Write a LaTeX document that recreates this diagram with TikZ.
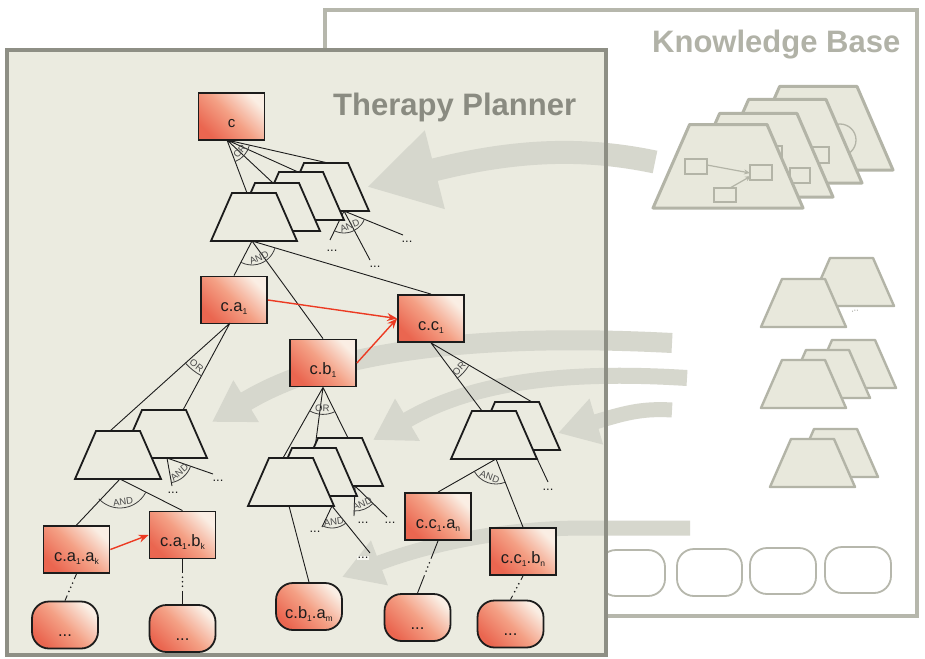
\documentclass[tikz,border=0pt]{standalone}
\usepackage{fontspec}
\setmainfont{Liberation Sans}
\usetikzlibrary{arrows.meta,calc}

\definecolor{tpbg}{HTML}{EBEBE0}
\definecolor{tpborder}{HTML}{8E8F85}
\definecolor{kbborder}{HTML}{B6B7AC}
\definecolor{kbfill}{HTML}{E8E8DC}
\definecolor{kbline}{HTML}{B3B4A7}
\definecolor{flowc}{HTML}{D6D7CD}
\definecolor{tptitle}{HTML}{8A8B81}
\definecolor{kbtitle}{HTML}{B1B2A7}
\definecolor{kbdotc}{HTML}{8C8D83}
\definecolor{rtop}{HTML}{FAEEE4}
\definecolor{rmid}{HTML}{F4A085}
\definecolor{rbot}{HTML}{EA6650}
\definecolor{redarr}{HTML}{EC3A22}
\definecolor{ink}{HTML}{1C1C1C}

\newcommand\lowtxt[1]{\raisebox{-11.5pt}[0pt][0pt]{#1}}
\newcommand\sbx[1]{\raisebox{-3pt}{\fontsize{8.5}{8.5}\selectfont #1}}
\newcommand\gate[5]{%
  \draw[gatearc] ($(#1)+(#2:#4)$) arc[start angle=#2, end angle=#3, radius=#4];
  \node[gatelbl, rotate={90-(#2+#3)/2}] at ($(#1)+({(#2+#3)/2}:{#4-6})$) {#5};
}
\newcommand\vlink[2]{%
  \draw[conn] (#1) -- ($(#1)!0.5!(#2)!9pt!(#1)$);
  \draw[conn] ($(#1)!0.5!(#2)!9pt!(#2)$) -- (#2);
  \fill[ink] ($(#1)!0.5!(#2)!-4.5pt!(#2)$) circle[radius=0.9];
  \fill[ink] ($(#1)!0.5!(#2)$) circle[radius=0.9];
  \fill[ink] ($(#1)!0.5!(#2)!4.5pt!(#2)$) circle[radius=0.9];
}

\tikzset{
  redbox/.style={draw=ink, line width=1.8pt, top color=rtop, bottom color=rbot,
    middle color=rmid, shading angle=-45, minimum width=66pt, minimum height=47pt,
    inner sep=0pt, font=\fontsize{16.5}{16.5}\selectfont, text=ink},
  redround/.style={redbox, rounded corners=17pt},
  trapline/.style={draw=ink, line width=1.8pt, fill=tpbg, line join=miter},
  kbtrapline/.style={draw=kbline, line width=2.4pt, fill=kbfill, line join=round},
  kbmini/.style={draw=kbline, line width=1.3pt},
  kbround/.style={draw=kbborder, line width=1.8pt, fill=white, rounded corners=17pt},
  conn/.style={draw=ink, line width=0.9pt},
  gatearc/.style={draw=ink!85, line width=0.8pt},
  gatelbl/.style={font=\fontsize{9.5}{9.5}\selectfont, text=ink!80, inner sep=0pt},
  dotlbl/.style={font=\fontsize{13}{13}\selectfont, text=ink, inner sep=0pt},
  flowarrow/.style={draw=flowc, line cap=butt},
  redarrow/.style={draw=redarr, line width=1.4pt, -{Stealth[length=10pt,width=8pt]}},
  kbarrow/.style={draw=kbline, line width=1.2pt, -{Stealth[length=6pt,width=5pt]}},
  pics/trap/.style={code={\path[trapline] (0,0) -- (86,0) -- (65,-48) -- (21,-48) -- cycle;}},
  pics/kbbig/.style={code={\path[kbtrapline, line width=3pt] (0,0) -- (150,0) -- (114,-83.5) -- (36.6,-83.5) -- cycle;}},
  pics/kbsmall/.style={code={\path[kbtrapline] (0,0) -- (85,0) -- (64,-48) -- (21,-48) -- cycle;}},
}

\begin{document}
\begin{tikzpicture}[x=1pt,y=-1pt]
\useasboundingbox (0,0) rectangle (925,658);

% ---------------- Knowledge Base ----------------
\draw[kbborder, line width=3.5pt, fill=white] (325,10) rectangle (917,616);
\node[font=\bfseries\fontsize{31}{31}\selectfont, text=kbtitle, anchor=base west, inner sep=0pt] (kbt) at (652,53) {Knowledge Base};

% big stack
\pic at (743,170) {kbbig};
\draw[kbmini] (840,140) circle[radius=16];
\pic at (712,183) {kbbig};
\draw[kbmini] (805,147) rectangle (829,163);
\pic at (683,197) {kbbig};
\draw[kbmini] (760,146) rectangle (782,161);
\draw[kbmini] (790,168) rectangle (810,183);
\pic at (653,208) {kbbig};
\draw[kbmini] (685,159) rectangle (707,174);
\draw[kbmini] (750,165) rectangle (772,180);
\draw[kbmini] (714,188) rectangle (736,202);
\draw[kbarrow] (707,165) -- (750,173);
\draw[kbarrow] (730,188) -- (751,176);

% small stacks
\pic at (809,306) {kbsmall};
\pic at (761,327) {kbsmall};
\node[font=\fontsize{9}{9}\selectfont, text=kbdotc, rotate=15, inner sep=0pt] (kbdots) at (855,311) {...};
\pic at (811,388) {kbsmall};
\pic at (785,398) {kbsmall};
\pic at (761,408) {kbsmall};
\pic at (793,477) {kbsmall};
\pic at (770,487) {kbsmall};

% rounded items
\path[kbround] (599,550) rectangle (665,596);
\path[kbround] (677,549) rectangle (742,596);
\path[kbround] (750,548) rectangle (816,594);
\path[kbround] (825,547) rectangle (891,593);

% ---------------- Therapy Planner ----------------
\fill[tpbg] (7,50) rectangle (606,655);

% flow arrows
\draw[flowarrow, line width=23pt, -{Triangle[length=70pt,width=76pt]}] (655,162) .. controls (588,148) and (520,148) .. (367,187);
\draw[flowarrow, line width=20pt, -{Triangle[length=40pt,width=46pt]}] (672,343) .. controls (480,333) and (330,350) .. (212,422);
\draw[flowarrow, line width=16pt, -{Triangle[length=40pt,width=46pt]}] (687,378) .. controls (560,370) and (470,383) .. (373,440);
\draw[flowarrow, line width=15pt, -{Triangle[length=40pt,width=45pt]}] (672,410) .. controls (640,408) and (622,414) .. (558,433);
\draw[flowarrow, line width=15pt, -{Triangle[length=40pt,width=45pt]}] (690,528) -- (585,528) .. controls (515,528) and (440,540) .. (342,577);

\draw[tpborder, line width=4.5pt] (7,50) rectangle (606,655);
\node[font=\bfseries\fontsize{31}{31}\selectfont, text=tptitle, anchor=base west, inner sep=0pt] (tpt) at (333,116) {Therapy Planner};

% ---------------- tree nodes ----------------
\node[redbox, font=\fontsize{15}{15}\selectfont] (c) at (231.5,116.5) {\lowtxt{c}};
\node[redbox] (ca1) at (234,300) {\lowtxt{c.a\sbx{1}}};
\node[redbox] (cb1) at (323,363) {\lowtxt{c.b\sbx{1}}};
\node[redbox] (cc1) at (431,318.5) {\lowtxt{c.c\sbx{1}}};
\node[redbox] (caa) at (76.5,549.5) {\lowtxt{c.a\sbx{1}.a\sbx{k}}};
\node[redbox] (cab) at (182.5,535) {\lowtxt{c.a\sbx{1}.b\sbx{k}}};
\node[redbox] (cca) at (438,516.5) {\lowtxt{c.c\sbx{1}.a\sbx{n}}};
\node[redbox] (ccb) at (523,551.5) {\lowtxt{c.c\sbx{1}.b\sbx{n}}};
\node[redround] (ra) at (65,625) {\lowtxt{...}};
\node[redround] (rb) at (182.5,628.5) {\lowtxt{...}};
\node[redround] (rc) at (309,606.5) {\lowtxt{c.b\sbx{1}.a\sbx{m}}};
\node[redround] (rd) at (417.5,617.5) {\lowtxt{...}};
\node[redround] (re) at (510.5,624) {\lowtxt{...}};

% ---------------- c : OR ----------------
\coordinate (cA) at (227,140);
\coordinate (t1) at (247,193);
\coordinate (t2) at (273,183);
\coordinate (t3) at (298,172);
\coordinate (t4) at (328,163);
\draw[conn] (cA) -- (t1) (cA) -- (t2) (cA) -- (t3) (cA) -- (t4);
\gate{cA}{13}{69}{23}{OR}

% c stack
\pic at (283,211) {trap};
\coordinate (g4) at (344,211);
\coordinate (d41) at (330,240);
\coordinate (d42) at (370,260);
\coordinate (d43) at (403,235);
\draw[conn] (g4) -- (d41) (g4) -- (d42) (g4) -- (d43);
\gate{g4}{22}{116}{22}{AND}
\node[dotlbl] (e41) at (332,251) {...};
\node[dotlbl] (e42) at (375,267) {...};
\node[dotlbl] (e43) at (407,242) {...};
\pic at (258,220) {trap};
\pic at (234,231) {trap};
\pic at (211,241) {trap};
\coordinate (g1) at (252,241);
\draw[conn] (g1) -- (ca1.north) (g1) -- (cb1.north) (g1) -- (cc1.north);
\gate{g1}{17}{117}{24}{AND}

% ---------------- c.a1 : OR ----------------
\coordinate (caA) at (230,323);
\coordinate (cat1) at (110,431);
\coordinate (cat2) at (183,410);
\draw[conn] (caA) -- (cat1) (caA) -- (cat2);
\gate{caA}{118.4}{138}{60}{OR}
\pic at (121,458) {trap};
\coordinate (gab) at (167,458);
\coordinate (dab1) at (172,486);
\coordinate (dab2) at (213,474);
\draw[conn] (gab) -- (dab1) (gab) -- (dab2);
\gate{gab}{19}{80}{25}{AND}
\node[dotlbl] (eab1) at (173,493) {...};
\node[dotlbl] (eab2) at (218,481) {...};
\pic at (75,479) {trap};
\coordinate (gaf) at (120,479);
\draw[conn] (gaf) -- (caa.north) (gaf) -- (cab.north);
\gate{gaf}{27.5}{137}{29}{AND}

% ---------------- c.b1 : OR ----------------
\coordinate (cbt1) at (283,458);
\coordinate (cbt2) at (315,448);
\coordinate (cbt3) at (348,438);
\draw[conn] (cb1.south) -- (cbt1) (cb1.south) -- (cbt2) (cb1.south) -- (cbt3);
\gate{cb1.south}{64}{119}{27}{OR}
\pic at (297,486) {trap};
\coordinate (gbb) at (355,486);
\coordinate (dbb1) at (354,516);
\coordinate (dbb2) at (387,517);
\draw[conn] (gbb) -- (dbb1) (gbb) -- (dbb2);
\gate{gbb}{44}{92}{25}{AND}
\node[dotlbl] (ebb1) at (363,523) {...};
\node[dotlbl] (ebb2) at (390,523) {...};
\pic at (271,496) {trap};
\pic at (248,506) {trap};
\coordinate (gbf) at (332,506);
\coordinate (dbf1) at (322,527);
\coordinate (dbf2) at (370,553);
\draw[conn] (gbf) -- (dbf1) (gbf) -- (dbf2);
\gate{gbf}{51}{115}{22}{AND}
\node[dotlbl] (ebf1) at (315,532) {...};
\node[dotlbl, fill=tpbg!50!white, inner sep=1pt] (ebf2) at (363,558) {...};
\coordinate (gbl) at (289,506);
\draw[conn] (gbl) -- (rc.north);

% ---------------- c.c1 : OR ----------------
\coordinate (cct1) at (482,411);
\coordinate (cct2) at (532,402);
\draw[conn] (cc1.south) -- (cct1) (cc1.south) -- (cct2);
\gate{cc1.south}{31}{54}{44}{OR}
\pic at (474,450) {trap};
\coordinate (gcb) at (533,450);
\coordinate (dcb) at (548,482);
\draw[conn] (gcb) -- (dcb);
\node[dotlbl] (ecb) at (548,490) {...};
\pic at (451,459) {trap};
\coordinate (gcf) at (496,459);
\draw[conn] (gcf) -- (cca.north) (gcf) -- (ccb.north);
\gate{gcf}{68.6}{149.6}{25}{AND}

% ---------------- leaf links ----------------
\vlink{caa.south}{ra.north}
\vlink{cab.south}{rb.north}
\vlink{cca.south}{rd.north}
\vlink{ccb.south}{re.north}

% ---------------- red arrows ----------------
\draw[redarrow] (ca1.east) -- (cc1.west);
\draw[redarrow] (cb1.east) -- (cc1.west);
\draw[redarrow] (caa.east) -- (cab.west);
\end{tikzpicture}
\end{document}
